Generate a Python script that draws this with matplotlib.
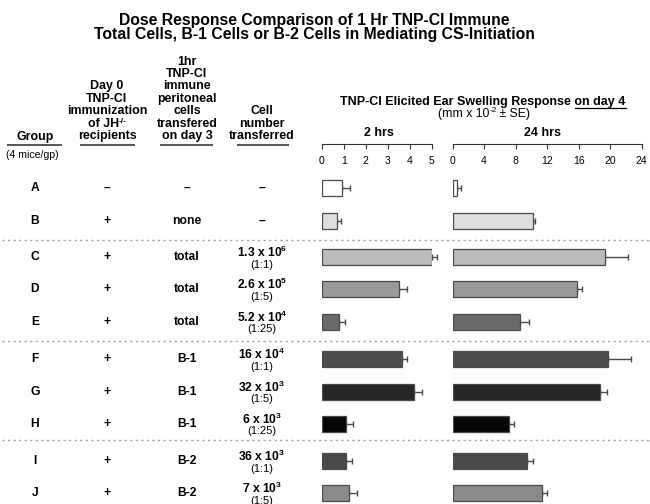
import matplotlib
matplotlib.use('Agg')
import matplotlib.pyplot as plt
import numpy as np

plt.rcParams['font.family'] = ['Liberation Sans', 'DejaVu Sans']
plt.rcParams['mathtext.fontset'] = 'custom'
plt.rcParams['mathtext.rm'] = 'Liberation Sans'
plt.rcParams['mathtext.bf'] = 'Liberation Sans:bold'

# data
groups = ['A', 'B', 'C', 'D', 'E', 'F', 'G', 'H', 'I', 'J']
recipients = ['–', '+', '+', '+', '+', '+', '+', '+', '+', '+']
transferred = ['–', 'none', 'total', 'total', 'total', 'B-1', 'B-1', 'B-1', 'B-2', 'B-2']
cell_number = ['–', '–', r'1.3 x 10$^{\mathbf{6}}$', r'2.6 x 10$^{\mathbf{5}}$', r'5.2 x 10$^{\mathbf{4}}$',
               r'16 x 10$^{\mathbf{4}}$', r'32 x 10$^{\mathbf{3}}$', r'6 x 10$^{\mathbf{3}}$',
               r'36 x 10$^{\mathbf{3}}$', r'7 x 10$^{\mathbf{3}}$']
ratio = ['', '', '(1:1)', '(1:5)', '(1:25)', '(1:1)', '(1:5)', '(1:25)', '(1:1)', '(1:5)']

hr2 = [0.9, 0.7, 5.0, 3.5, 0.8, 3.65, 4.2, 1.1, 1.1, 1.25]
hr2_se = [0.37, 0.18, 0.25, 0.38, 0.24, 0.23, 0.34, 0.34, 0.26, 0.34]
hr24 = [0.6, 10.2, 19.4, 15.8, 8.6, 19.7, 18.7, 7.2, 9.5, 11.3]
hr24_se = [0.45, 0.25, 2.8, 0.6, 1.1, 2.9, 0.95, 0.6, 0.7, 0.7]

bar_colors = ['white', '#dedede', '#bcbcbc', '#999999', '#6a6a6a',
              '#4e4e4e', '#262626', '#050505', '#4a4a4a', '#8a8a8a']

# layout (pixels from top-left of a 650x504 canvas)
W, H = 650, 504
row_y = [188, 221, 257, 289, 322, 359, 392, 424, 461, 493]
sep_y = [239.5, 340.5, 440]
axis_y = 144

fig = plt.figure(figsize=(6.5, 5.04), dpi=100)
bg = fig.add_axes([0, 0, 1, 1])
bg.set_xlim(0, W)
bg.set_ylim(H, 0)
bg.axis('off')
fig.canvas.draw()
rend = fig.canvas.get_renderer()


def text_width(s, **kw):
    t = bg.text(0, 0, s, **kw)
    w = t.get_window_extent(rend).width
    t.remove()
    return w


def sup_text(x, y, parts, size, weight='normal', raise_px=4.0, gap=0.0):
    # parts: list of (string, is_superscript); centred on x
    widths = []
    for s, sup in parts:
        widths.append(text_width(s, fontsize=size * 0.68 if sup else size, fontweight=weight) + gap)
    cx = x - sum(widths) / 2
    for (s, sup), w in zip(parts, widths):
        if sup:
            bg.text(cx, y - raise_px, s, ha='left', va='center',
                    fontsize=size * 0.68, fontweight=weight)
        else:
            bg.text(cx, y, s, ha='left', va='center', fontsize=size, fontweight=weight)
        cx += w


# title
bg.text(314, 21, 'Dose Response Comparison of 1 Hr TNP-CI Immune',
        ha='center', va='center', fontsize=11.3, fontweight='bold')
bg.text(314, 35, 'Total Cells, B-1 Cells or B-2 Cells in Mediating CS-Initiation',
        ha='center', va='center', fontsize=11.3, fontweight='bold')

# column headers
hdr_size = 8.9
hdr_kw = dict(ha='center', va='center', fontsize=hdr_size, fontweight='bold')
col2 = ['Day 0', 'TNP-CI', 'immunization', None, 'recipients']
col3 = ['1hr', 'TNP-CI', 'immune', 'peritoneal', 'cells', 'transfered', 'on day 3']
col4 = ['Cell', 'number', 'transferred']
for x, lines in [(107, col2), (187, col3), (262, col4)]:
    for i, s in enumerate(reversed(lines)):
        y = 136 - i * 12.4
        if s is None:
            sup_text(x, y, [('of JH', False), ('-/-', True)], hdr_size, 'bold', raise_px=2.5)
        else:
            bg.text(x, y, s, **hdr_kw)
bg.text(35, 137, 'Group', **hdr_kw)
bg.text(6, 155, '(4 mice/gp)', ha='left', va='center', fontsize=7.6)
for x0, x1 in [(7, 62), (80, 135), (160, 213), (237, 289)]:
    bg.plot([x0, x1], [145, 145], color='#555555', lw=1.4, solid_capstyle='butt')

# row labels
row_kw = dict(ha='center', va='center', fontsize=8.7, fontweight='bold')
for i, y in enumerate(row_y):
    bg.text(35, y, groups[i], **row_kw)
    bg.text(107, y, recipients[i], **row_kw)
    bg.text(187, y, transferred[i], **row_kw)
    if ratio[i]:
        bg.text(262, y - 5, cell_number[i], **row_kw)
        bg.text(262, y + 7.5, ratio[i], ha='center', va='center', fontsize=8.0)
    else:
        bg.text(262, y, cell_number[i], **row_kw)

# dotted separators
for y in sep_y:
    bg.plot([2, 650], [y, y], color='#a0a0a0', lw=1.0, ls=(0, (1.5, 2.5)))

# response header
resp = bg.text(483, 101.5, 'TNP-CI Elicited Ear Swelling Response on day 4',
               ha='center', va='center', fontsize=9.0, fontweight='bold')
bb = resp.get_window_extent(rend)
wpx = text_width('on day 4', fontsize=9.0, fontweight='bold')
bg.plot([bb.x1 - wpx, bb.x1], [108, 108], color='black', lw=0.9)
sup_text(484, 114.5, [('(mm x 10', False), ('-2', True), ('\u2009± SE)', False)], 8.8)
bg.text(379, 133, '2 hrs', ha='center', va='center', fontsize=9.0, fontweight='bold')
bg.text(543, 133, '24 hrs', ha='center', va='center', fontsize=9.0, fontweight='bold')


def bar_panel(x0, x1, xmax, step, vals, errs):
    ax = fig.add_axes([x0 / W, 0, (x1 - x0) / W, (H - axis_y) / H])
    ax.set_xlim(0, xmax)
    ax.set_ylim(H, axis_y)
    ax.patch.set_alpha(0)
    for s in ['left', 'right', 'bottom']:
        ax.spines[s].set_visible(False)
    ax.spines['top'].set_color('#333333')
    ax.spines['top'].set_linewidth(0.8)
    ax.set_yticks([])
    ax.set_xticks(np.arange(0, xmax + step / 2, step))
    ax.tick_params(axis='x', top=True, bottom=False, labeltop=True, labelbottom=False,
                   direction='in', length=3.5, width=0.8, color='#333333',
                   pad=-16, labelsize=7.5)
    ax.barh(row_y, vals, height=16.5, color=bar_colors, edgecolor='#4a4a4a',
            linewidth=0.9, zorder=2)
    eb = ax.errorbar(vals, row_y, xerr=[np.zeros(len(vals)), errs], fmt='none',
                     ecolor='#4a4a4a', elinewidth=1.0, capsize=2.5, capthick=1.0, zorder=1)
    for child in eb.get_children():
        child.set_clip_on(False)
    return ax


bar_panel(321.7, 431.7, 5, 1, hr2, hr2_se)
bar_panel(452.5, 641.7, 24, 4, hr24, hr24_se)

fig.savefig('out.png', dpi=100)
